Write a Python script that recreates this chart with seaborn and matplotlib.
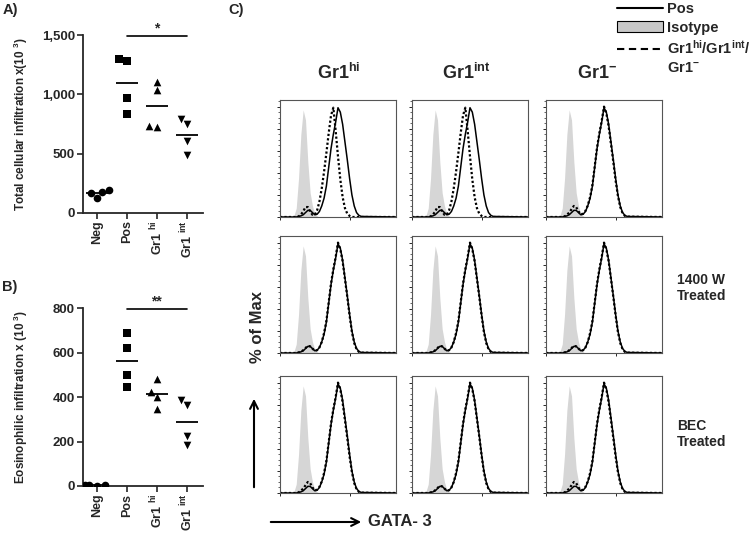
import numpy as np
import pandas as pd
import matplotlib
matplotlib.use('Agg')
import matplotlib.pyplot as plt
import seaborn as sns
from matplotlib.lines import Line2D
from matplotlib.patches import Patch, FancyArrowPatch
from matplotlib.ticker import StrMethodFormatter, MultipleLocator

# ---- panel A / B data (x10^3 cells) ----
groups = ['Neg', 'Pos', 'Gr1hi', 'Gr1int']
group_labels = ['Neg', 'Pos', 'Gr1 $^{hi}$', 'Gr1 $^{int}$']
group_markers = ['o', 's', '^', 'v']

total_neg = [177, 191, 127, 169]
total_pos = [1280, 1295, 965, 833]
total_hi = [1103, 1036, 726, 732]
total_int = [746, 791, 602, 490]

eos_neg = [3, 6, 2, 4]
eos_pos = [687, 620, 502, 446]
eos_hi = [484, 424, 402, 345]
eos_int = [364, 387, 225, 184]

# ---- panel C histograms: GATA-3 (log decades) vs % of max ----
gata_log = [0.0, 0.5, 0.6, 0.7, 0.8, 0.9, 1.0, 1.1, 1.2, 1.3, 1.4, 1.5, 1.6,
            1.7, 1.8, 1.9, 2.0, 2.1, 2.2, 2.3, 2.4, 2.5, 2.6, 2.7, 2.8, 2.9,
            3.0, 3.1, 3.2, 3.3, 3.4, 3.5, 5.0]
isotype = [0, 0, 1, 8, 35, 75, 97, 88, 50, 22, 10, 3, 1,
           0, 0, 0, 0, 0, 0, 0, 0, 0, 0, 0, 0, 0, 0, 0, 0, 0, 0, 0, 0]
pos_curve = [0, 0, 0, 0, 0.5, 1, 2, 4, 6, 6, 4, 2, 2.5,
             5, 10, 17, 28, 45, 62, 75, 86, 99, 95, 84, 68, 52,
             35, 20, 10, 4, 1.5, 0.5, 0]
gr1_shifted = [0, 0, 0, 0, 0.5, 2, 5, 9, 9, 5, 2, 2, 6,
               14, 26, 41, 58, 76, 92, 99, 78, 55, 34, 18, 8, 3,
               1, 0, 0, 0, 0, 0, 0]
gr1_matched = [0, 0, 0, 0, 0.5, 2, 4, 7, 10, 9, 5, 2.5, 3,
               5.5, 10.5, 18, 29, 46, 63, 76, 87, 100, 94, 82, 66, 50,
               33, 19, 9, 3.5, 1, 0.3, 0]
gr1_treated = [0, 0, 0, 0, 0.5, 1, 2.5, 4.5, 6.5, 6, 4, 2, 2.5,
               5, 10, 18, 29, 46, 63, 76, 87, 100, 94, 83, 67, 51,
               34, 19, 9, 3.5, 1, 0.3, 0]

col_titles = ['Gr1$^{hi}$', 'Gr1$^{int}$', 'Gr1$^{-}$']
row_titles = ['', '1400 W\nTreated', 'BEC\nTreated']
dotted_by_panel = [[gr1_shifted, gr1_shifted, gr1_matched],
                   [gr1_treated, gr1_treated, gr1_treated],
                   [gr1_matched, gr1_treated, gr1_matched]]

sns.set_style('ticks')
plt.rcParams['font.family'] = ['Liberation Sans', 'DejaVu Sans']
plt.rcParams['font.weight'] = 'bold'
plt.rcParams['axes.labelweight'] = 'bold'
plt.rcParams['mathtext.fontset'] = 'custom'
plt.rcParams['mathtext.rm'] = 'Liberation Sans:bold'
plt.rcParams['mathtext.bf'] = 'Liberation Sans:bold'
plt.rcParams['mathtext.default'] = 'bf'

fig = plt.figure(figsize=(7.5, 5.35), dpi=100)


def dot_panel(ax, values, ymax, ystep, ylabel, stars):
    df = pd.DataFrame({'group': np.repeat(groups, 4),
                       'value': np.concatenate(values)})
    for g, m in zip(groups, group_markers):
        sns.swarmplot(data=df[df.group == g], x='group', y='value', order=groups,
                      marker=m, color='black', size=5.5, ax=ax)
    means = df.groupby('group', sort=False)['value'].mean()
    for i, g in enumerate(groups):
        ax.hlines(means[g], i - 0.37, i + 0.37, color='black', lw=1.3)
    ax.set_xlim(-0.48, 3.53)
    ax.set_ylim(0, ymax)
    ax.yaxis.set_major_locator(MultipleLocator(ystep))
    ax.yaxis.set_major_formatter(StrMethodFormatter('{x:,.0f}'))
    ax.set_xticks(range(4))
    ax.set_xticklabels(group_labels, rotation=90, fontsize=9)
    ax.tick_params(axis='y', labelsize=9.5)
    ax.tick_params(length=4, width=1.2, pad=1.5)
    ax.set_xlabel('')
    ax.set_ylabel(ylabel, fontsize=8.5)
    ax.yaxis.set_label_coords(-0.44, 0.5)
    sns.despine(ax=ax)
    for s in ['left', 'bottom']:
        ax.spines[s].set_linewidth(1.3)
    # significance bar Pos vs Gr1 int
    ax.plot([1, 3], [ymax * 0.995] * 2, color='black', lw=1.2, clip_on=False)
    ax.text(2, ymax * 1.0, stars, ha='center', va='bottom', fontsize=10)


ax_a = fig.add_axes([0.110, 0.6024, 0.160, 0.332])
dot_panel(ax_a, [total_neg, total_pos, total_hi, total_int], 1500, 500,
          'Total cellular infiltration x(10 $^{3}$)', '*')
ax_b = fig.add_axes([0.110, 0.0916, 0.160, 0.332])
dot_panel(ax_b, [eos_neg, eos_pos, eos_hi, eos_int], 800, 200,
          'Eosinophilic infiltration x (10 $^{3}$)', '**')

# histogram grid
col_left = [0.3733, 0.5493, 0.728]
row_bottom = [0.5944, 0.3402, 0.0785]
x = 10 ** np.array(gata_log)
for r in range(3):
    for c in range(3):
        ax = fig.add_axes([col_left[c], row_bottom[r], 0.1547, 0.2187])
        ax.fill_between(x, isotype, color='#d6d6d6', lw=0)
        sns.lineplot(x=x, y=pos_curve, color='black', lw=1.1, ax=ax)
        sns.lineplot(x=x, y=dotted_by_panel[r][c], color='black', lw=1.6,
                     linestyle=(0, (1, 1)), ax=ax)
        ax.set_xscale('log')
        ax.set_xlim(1, 1e5)
        ax.set_ylim(0, 106)
        ax.yaxis.set_major_locator(MultipleLocator(20))
        ax.yaxis.set_minor_locator(MultipleLocator(5))
        ax.tick_params(labelbottom=False, labelleft=False, length=2.5, width=0.7)
        ax.tick_params(which='minor', length=1.2, width=0.5)
        ax.set_xlabel('')
        ax.set_ylabel('')
        for s in ax.spines.values():
            s.set_linewidth(0.8)
            s.set_color('#555555')

col_centers = [339, 466, 597]
for title, cx in zip(col_titles, col_centers):
    fig.text(cx / 750, 1 - 73 / 535, title, ha='center', va='center', fontsize=13)
fig.text(677 / 750, 1 - 288 / 535, row_titles[1], ha='left', va='center',
         fontsize=10, linespacing=1.2)
fig.text(677 / 750, 1 - 434 / 535, row_titles[2], ha='left', va='center',
         fontsize=10, linespacing=1.2)

fig.text(257 / 750, 1 - 327 / 535, '% of Max', rotation=90, ha='center',
         va='center', fontsize=12)
fig.add_artist(FancyArrowPatch((254 / 750, 1 - 490 / 535), (254 / 750, 1 - 396 / 535),
                               transform=fig.transFigure, arrowstyle='->',
                               mutation_scale=14, lw=1.5, color='black'))
fig.add_artist(FancyArrowPatch((268 / 750, 1 - 522 / 535), (364 / 750, 1 - 522 / 535),
                               transform=fig.transFigure, arrowstyle='->',
                               mutation_scale=14, lw=1.5, color='black'))
fig.text(368 / 750, 1 - 522 / 535, 'GATA- 3', ha='left', va='center', fontsize=12)

# panel letters
fig.text(0.003, 1 - 10 / 535, 'A)', fontsize=10.5, va='center')
fig.text(0.003, 1 - 287 / 535, 'B)', fontsize=10.5, va='center')
fig.text(228 / 750, 1 - 10 / 535, 'C)', fontsize=10.5, va='center')

handles = [Line2D([], [], color='black', lw=1.5),
           Patch(facecolor='#c8c8c8', edgecolor='black', lw=0.8),
           Line2D([], [], color='black', lw=1.5, linestyle=(0, (3.5, 2.2))),
           Line2D([], [], color='none')]
labels = ['Pos', 'Isotype', 'Gr1$^{hi}$/Gr1$^{int}$/', 'Gr1$^{-}$']
fig.legend(handles, labels, loc='upper left', bbox_to_anchor=(0.822, 0.996),
           frameon=False, fontsize=10.5, handlelength=3.2, handletextpad=0.25,
           labelspacing=0.3, borderaxespad=0, borderpad=0)

fig.savefig('out.png', dpi=100)
